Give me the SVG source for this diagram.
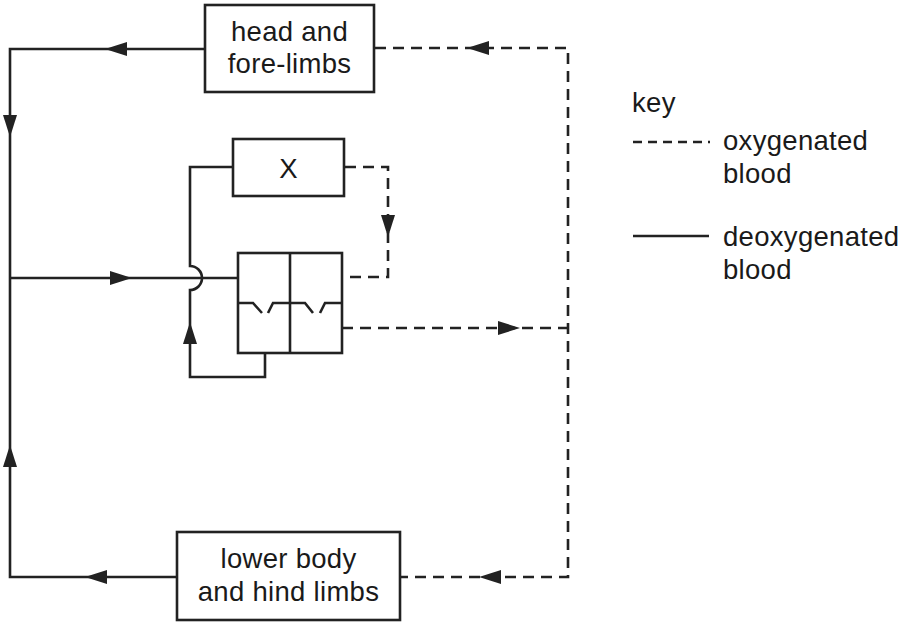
<svg xmlns="http://www.w3.org/2000/svg" xmlns:xlink="http://www.w3.org/1999/xlink" width="904" height="628" viewBox="0 0 904 628">
<style>
.box{fill:#fff;stroke:#222;stroke-width:2.6}
.solid{fill:none;stroke:#222;stroke-width:2.6}
.dash{fill:none;stroke:#222;stroke-width:2.6;stroke-dasharray:11 7}
.t{font-family:"Liberation Sans",Arial,Helvetica,sans-serif;font-size:27.5px;fill:#1a1a1a;letter-spacing:0.3px}
.c{text-anchor:middle}
</style>
<defs>
<path id="ah" d="M0,0 L-22,-7 L-22,7 Z" fill="#222"/>
</defs>
<rect width="904" height="628" fill="#fff"/>
<g id="connectors">
<polyline class="solid" points="205,49 10,49 10,577 177,577"/>
<line class="solid" x1="10" y1="278" x2="238" y2="278"/>
<path class="solid" d="M233,167 H190 V266 A12,12 0 0 1 190,290 V377 H265 V353"/>
<polyline class="dash" points="375,48 568,48 568,577 400,577"/>
<line class="dash" x1="342" y1="328" x2="568" y2="328"/>
<polyline class="dash" points="345,167 388,167 388,277 342,277"/>
<use xlink:href="#ah" transform="translate(105,49) rotate(180)"/>
<use xlink:href="#ah" transform="translate(10,137) rotate(90)"/>
<use xlink:href="#ah" transform="translate(10,445) rotate(-90)"/>
<use xlink:href="#ah" transform="translate(85,577) rotate(180)"/>
<use xlink:href="#ah" transform="translate(132,278)"/>
<use xlink:href="#ah" transform="translate(190,322) rotate(-90)"/>
<use xlink:href="#ah" transform="translate(388,237) rotate(90)"/>
<use xlink:href="#ah" transform="translate(520,328)"/>
<use xlink:href="#ah" transform="translate(467,48) rotate(180)"/>
<use xlink:href="#ah" transform="translate(479,577) rotate(180)"/>
</g>
<g id="head">
<rect class="box" x="205" y="5" width="169" height="87"/>
<text class="t c" x="289.5" y="41">head and</text>
<text class="t c" x="289.5" y="73">fore-limbs</text>
</g>
<g id="x">
<rect class="box" x="233" y="139" width="111" height="57"/>
<text class="t c" x="288.5" y="178">X</text>
</g>
<g id="heart">
<rect class="box" x="238" y="253" width="104" height="100"/>
<line class="solid" x1="290" y1="253" x2="290" y2="353"/>
<polyline class="solid" points="238,303 253,303 262,313"/>
<polyline class="solid" points="268,313 273,303 290,303"/>
<polyline class="solid" points="290,303 305,303 313,313"/>
<polyline class="solid" points="320,313 325,303 342,303"/>
</g>
<g id="lower">
<rect class="box" x="177" y="532" width="223" height="88"/>
<text class="t c" x="288.5" y="568">lower body</text>
<text class="t c" x="288.5" y="601">and hind limbs</text>
</g>
<g id="key">
<text class="t" x="632" y="112">key</text>
<line class="dash" x1="633" y1="142" x2="710" y2="142" style="stroke-dasharray:9 6"/>
<text class="t" x="723" y="150">oxygenated</text>
<text class="t" x="723" y="183">blood</text>
<line class="solid" x1="633" y1="236" x2="709" y2="236"/>
<text class="t" x="723" y="246">deoxygenated</text>
<text class="t" x="723" y="279">blood</text>
</g>
</svg>
